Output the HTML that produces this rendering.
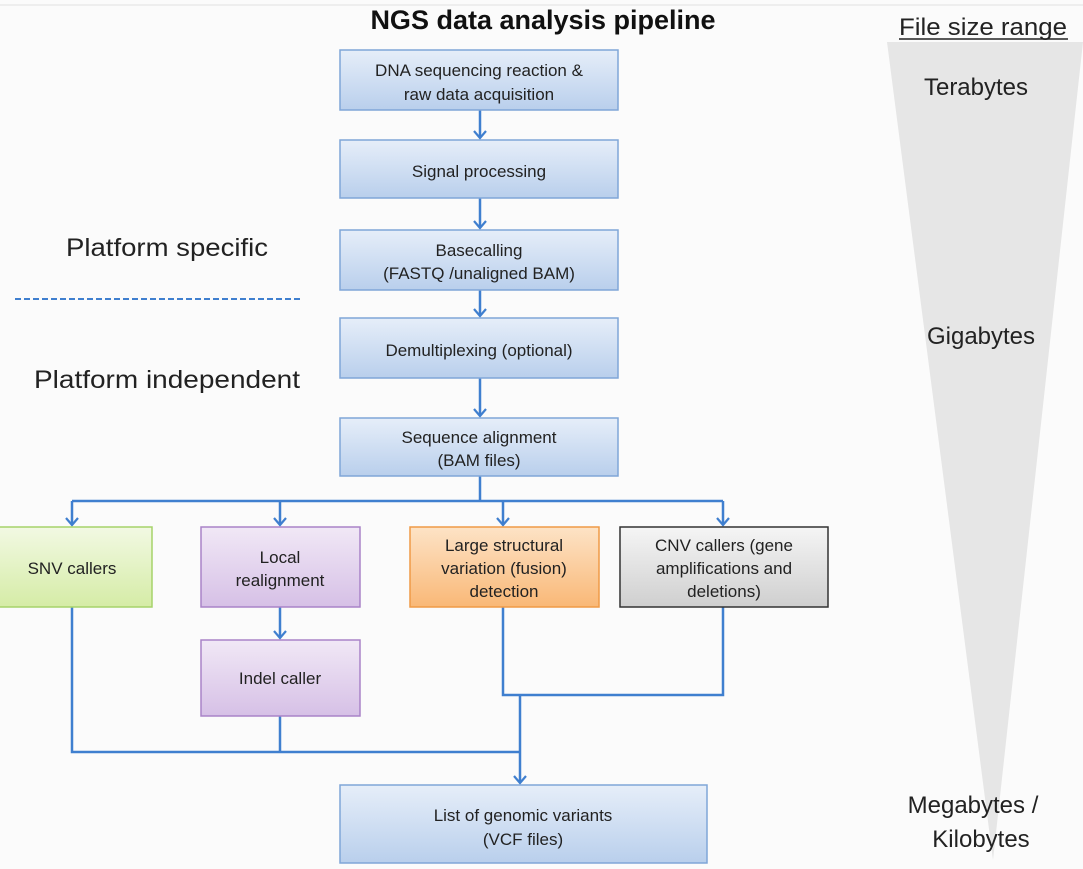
<!DOCTYPE html>
<html><head><style>
html,body{margin:0;padding:0;background:#fff}
svg{display:block}
text{font-family:"Liberation Sans",sans-serif;fill:#222}
</style></head><body>
<svg width="1083" height="869" viewBox="0 0 1083 869" xmlns="http://www.w3.org/2000/svg">
<defs>
<linearGradient id="gb" x1="0" y1="0" x2="0" y2="1"><stop offset="0" stop-color="#e6eef9"/><stop offset="1" stop-color="#b9cfec"/></linearGradient>
<linearGradient id="gg" x1="0" y1="0" x2="0" y2="1"><stop offset="0" stop-color="#f2f9e3"/><stop offset="1" stop-color="#d5eca6"/></linearGradient>
<linearGradient id="gp" x1="0" y1="0" x2="0" y2="1"><stop offset="0" stop-color="#f1e8f6"/><stop offset="1" stop-color="#d6c0e6"/></linearGradient>
<linearGradient id="go" x1="0" y1="0" x2="0" y2="1"><stop offset="0" stop-color="#fde3c6"/><stop offset="1" stop-color="#f9b877"/></linearGradient>
<linearGradient id="gk" x1="0" y1="0" x2="0" y2="1"><stop offset="0" stop-color="#f5f5f5"/><stop offset="1" stop-color="#cfcfcf"/></linearGradient>
<marker id="ar" markerWidth="14" markerHeight="14" refX="11" refY="7" orient="auto" markerUnits="userSpaceOnUse"><path d="M4,1 L11,7 L4,13" fill="none" stroke="#3f7fcf" stroke-width="2.2"/></marker>
</defs>
<rect x="0" y="0" width="1083" height="869" fill="#fbfbfb"/>
<line x1="0" y1="5" x2="1083" y2="5" stroke="#e0e0e0"/>
<polygon points="887,42 1083,42 993,860" fill="#e6e6e6"/>
<text x="543" y="29" text-anchor="middle" font-size="27" font-weight="bold" style="fill:#111">NGS data analysis pipeline</text>
<text x="983" y="35" text-anchor="middle" font-size="24" textLength="168" lengthAdjust="spacingAndGlyphs">File size range</text>
<line x1="899" y1="39" x2="1068" y2="39" stroke="#222" stroke-width="1.5"/>
<text x="976" y="95" text-anchor="middle" font-size="24">Terabytes</text>
<text x="981" y="344" text-anchor="middle" font-size="24">Gigabytes</text>
<text x="973" y="813" text-anchor="middle" font-size="24">Megabytes /</text>
<text x="981" y="847" text-anchor="middle" font-size="24">Kilobytes</text>
<text x="167" y="256" text-anchor="middle" font-size="25" textLength="202" lengthAdjust="spacingAndGlyphs">Platform specific</text>
<text x="167" y="388" text-anchor="middle" font-size="25" textLength="266" lengthAdjust="spacingAndGlyphs">Platform independent</text>
<line x1="15" y1="299" x2="302" y2="299" stroke="#3f7fcf" stroke-width="2" stroke-dasharray="6,3"/>
<g stroke="#3f7fcf" stroke-width="2.5" fill="none">
<line x1="480" y1="110" x2="480" y2="138" marker-end="url(#ar)"/>
<line x1="480" y1="198" x2="480" y2="228" marker-end="url(#ar)"/>
<line x1="480" y1="290" x2="480" y2="316" marker-end="url(#ar)"/>
<line x1="480" y1="378" x2="480" y2="416" marker-end="url(#ar)"/>
<line x1="480" y1="476" x2="480" y2="501"/>
<line x1="72" y1="501" x2="723" y2="501"/>
<line x1="72" y1="501" x2="72" y2="525" marker-end="url(#ar)"/>
<line x1="280" y1="501" x2="280" y2="525" marker-end="url(#ar)"/>
<line x1="503" y1="501" x2="503" y2="525" marker-end="url(#ar)"/>
<line x1="723" y1="501" x2="723" y2="525" marker-end="url(#ar)"/>
<line x1="280" y1="607" x2="280" y2="638" marker-end="url(#ar)"/>
<polyline points="72,607 72,752 520,752"/>
<line x1="280" y1="716" x2="280" y2="752"/>
<polyline points="503,607 503,695 723,695 723,607"/>
<line x1="520" y1="695" x2="520" y2="783" marker-end="url(#ar)"/>
</g>
<g stroke-width="1.5">
<rect x="340" y="50" width="278" height="60" fill="url(#gb)" stroke="#7fa6d8"/>
<rect x="340" y="140" width="278" height="58" fill="url(#gb)" stroke="#7fa6d8"/>
<rect x="340" y="230" width="278" height="60" fill="url(#gb)" stroke="#7fa6d8"/>
<rect x="340" y="318" width="278" height="60" fill="url(#gb)" stroke="#7fa6d8"/>
<rect x="340" y="418" width="278" height="58" fill="url(#gb)" stroke="#7fa6d8"/>
<rect x="-2" y="527" width="154" height="80" fill="url(#gg)" stroke="#a6d36a"/>
<rect x="201" y="527" width="159" height="80" fill="url(#gp)" stroke="#a983c8"/>
<rect x="410" y="527" width="189" height="80" fill="url(#go)" stroke="#f09a46"/>
<rect x="620" y="527" width="208" height="80" fill="url(#gk)" stroke="#333"/>
<rect x="201" y="640" width="159" height="76" fill="url(#gp)" stroke="#a983c8"/>
<rect x="340" y="785" width="367" height="78" fill="url(#gb)" stroke="#7fa6d8"/>
</g>
<g font-size="17" text-anchor="middle">
<text x="479" y="76">DNA sequencing reaction &amp;</text>
<text x="479" y="100">raw data acquisition</text>
<text x="479" y="177">Signal processing</text>
<text x="479" y="256">Basecalling</text>
<text x="479" y="279">(FASTQ  /unaligned BAM)</text>
<text x="479" y="356">Demultiplexing (optional)</text>
<text x="479" y="443">Sequence alignment</text>
<text x="479" y="466">(BAM files)</text>
<text x="72" y="574">SNV callers</text>
<text x="280" y="563">Local</text>
<text x="280" y="586">realignment</text>
<text x="504" y="551">Large structural</text>
<text x="504" y="574">variation (fusion)</text>
<text x="504" y="597">detection</text>
<text x="724" y="551">CNV callers (gene</text>
<text x="724" y="574">amplifications and</text>
<text x="724" y="597">deletions)</text>
<text x="280" y="684">Indel caller</text>
<text x="523" y="821">List of genomic variants</text>
<text x="523" y="845">(VCF files)</text>
</g>
</svg>
</body></html>
